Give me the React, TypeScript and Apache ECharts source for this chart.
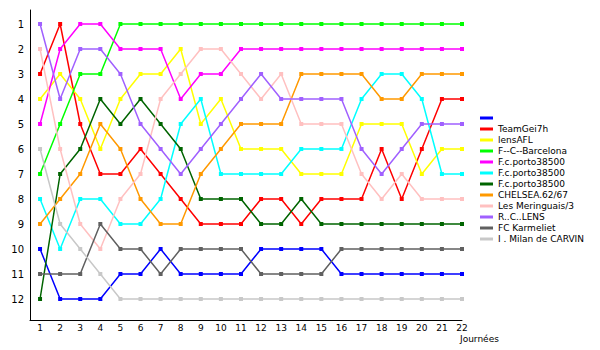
import React, { useEffect, useRef } from "react";
import * as echarts from "echarts";

const journees = [1, 2, 3, 4, 5, 6, 7, 8, 9, 10, 11, 12, 13, 14, 15, 16, 17, 18, 19, 20, 21, 22];
const rankTicks = [1, 2, 3, 4, 5, 6, 7, 8, 9, 10, 11, 12];

const teamNames = [
  " ",
  "TeamGei7h",
  "lensAFL",
  "F--C--Barcelona",
  "F.c.porto38500",
  "F.c.porto38500\u200B",
  "F.c.porto38500\u200B\u200B",
  "CHELSEA.62/67",
  "Les Meringuais/3",
  "R..C..LENS",
  "FC Karmeliet",
  "I . Milan de CARVIN",
];

const teamColors = [
  "#0000ff",
  "#ff0000",
  "#ffff00",
  "#00ff00",
  "#ff00ff",
  "#00ffff",
  "#006400",
  "#ff9900",
  "#ffc0c0",
  "#a060ff",
  "#606060",
  "#c8c8c8",
];

const rankBlue = [10, 12, 12, 12, 11, 11, 10, 11, 11, 11, 11, 10, 10, 10, 10, 11, 11, 11, 11, 11, 11, 11];
const rankTeamGei7h = [3, 1, 5, 7, 7, 6, 7, 8, 9, 9, 9, 8, 8, 9, 8, 8, 8, 6, 8, 6, 4, 4];
const rankLensAFL = [4, 3, 4, 6, 4, 3, 3, 2, 5, 4, 6, 6, 6, 7, 7, 7, 5, 5, 5, 7, 6, 6];
const rankBarcelona = [7, 5, 3, 3, 1, 1, 1, 1, 1, 1, 1, 1, 1, 1, 1, 1, 1, 1, 1, 1, 1, 1];
const rankPorto1 = [5, 2, 1, 1, 2, 2, 2, 4, 3, 3, 2, 2, 2, 2, 2, 2, 2, 2, 2, 2, 2, 2];
const rankPorto2 = [8, 10, 8, 8, 9, 9, 8, 5, 4, 7, 7, 7, 7, 6, 6, 6, 4, 3, 3, 4, 7, 7];
const rankPorto3 = [12, 7, 6, 4, 5, 4, 5, 6, 8, 8, 8, 9, 9, 8, 9, 9, 9, 9, 9, 9, 9, 9];
const rankChelsea = [9, 8, 7, 5, 6, 8, 9, 9, 7, 6, 5, 5, 5, 3, 3, 3, 3, 4, 4, 3, 3, 3];
const rankMeringuais = [2, 6, 9, 10, 8, 7, 4, 3, 2, 2, 3, 4, 3, 5, 5, 5, 7, 8, 7, 8, 8, 8];
const rankLens = [1, 4, 2, 2, 3, 5, 6, 7, 6, 5, 4, 3, 4, 4, 4, 4, 6, 7, 6, 5, 5, 5];
const rankKarmeliet = [11, 11, 11, 9, 10, 10, 11, 10, 10, 10, 10, 11, 11, 11, 11, 10, 10, 10, 10, 10, 10, 10];
const rankMilan = [6, 9, 10, 11, 12, 12, 12, 12, 12, 12, 12, 12, 12, 12, 12, 12, 12, 12, 12, 12, 12, 12];

const allRanks = [
  rankBlue,
  rankTeamGei7h,
  rankLensAFL,
  rankBarcelona,
  rankPorto1,
  rankPorto2,
  rankPorto3,
  rankChelsea,
  rankMeringuais,
  rankLens,
  rankKarmeliet,
  rankMilan,
];

const FONT = "DejaVu Sans";

export default function App() {
  const ref = useRef<HTMLDivElement>(null);

  useEffect(() => {
    if (!ref.current) return;
    const chart = echarts.init(ref.current, undefined, { renderer: "svg" });
    const series = allRanks.map((ranks, k) => ({
      name: teamNames[k],
      type: "line",
      data: ranks.map((r, i) => [journees[i], r]),
      symbol: "rect",
      symbolSize: 4,
      lineStyle: { width: 1.5, color: teamColors[k] },
      itemStyle: { color: teamColors[k] },
      emphasis: { disabled: true },
    }));
    chart.setOption({
      animation: false,
      backgroundColor: "#ffffff",
      grid: { left: 30, right: 138, top: 10, bottom: 30, containLabel: false },
      xAxis: {
        type: "value",
        min: 0.5,
        max: 22,
        splitLine: { show: false },
        axisTick: { show: false },
        axisLine: { lineStyle: { color: "#000", width: 1 } },
        axisLabel: {
          customValues: journees,
          color: "#000",
          fontFamily: FONT,
          fontSize: 9,
          margin: 3,
        },
      },
      yAxis: {
        type: "value",
        inverse: true,
        min: 0.44,
        max: 12.84,
        splitLine: { show: false },
        axisTick: { show: false },
        axisLine: { show: true, lineStyle: { color: "#000", width: 1 } },
        axisLabel: {
          customValues: rankTicks,
          color: "#000",
          fontFamily: FONT,
          fontSize: 10,
          margin: 6,
        },
      },
      legend: {
        orient: "vertical",
        left: 480,
        top: 113,
        padding: 0,
        itemWidth: 13,
        itemHeight: 3,
        itemGap: 1,
        icon: "rect",
        data: teamNames,
        textStyle: { fontFamily: FONT, fontSize: 9, lineHeight: 10, color: "#000" },
      },
      graphic: [
        {
          type: "text",
          left: 460,
          top: 334,
          style: { text: "Journées", fontFamily: FONT, fontSize: 9, fill: "#000" },
        },
      ],
      series,
    });
    return () => chart.dispose();
  }, []);

  return (
    <div
      ref={ref}
      style={{ position: "fixed", left: 0, top: 0, width: 600, height: 350, background: "#fff" }}
    />
  );
}
